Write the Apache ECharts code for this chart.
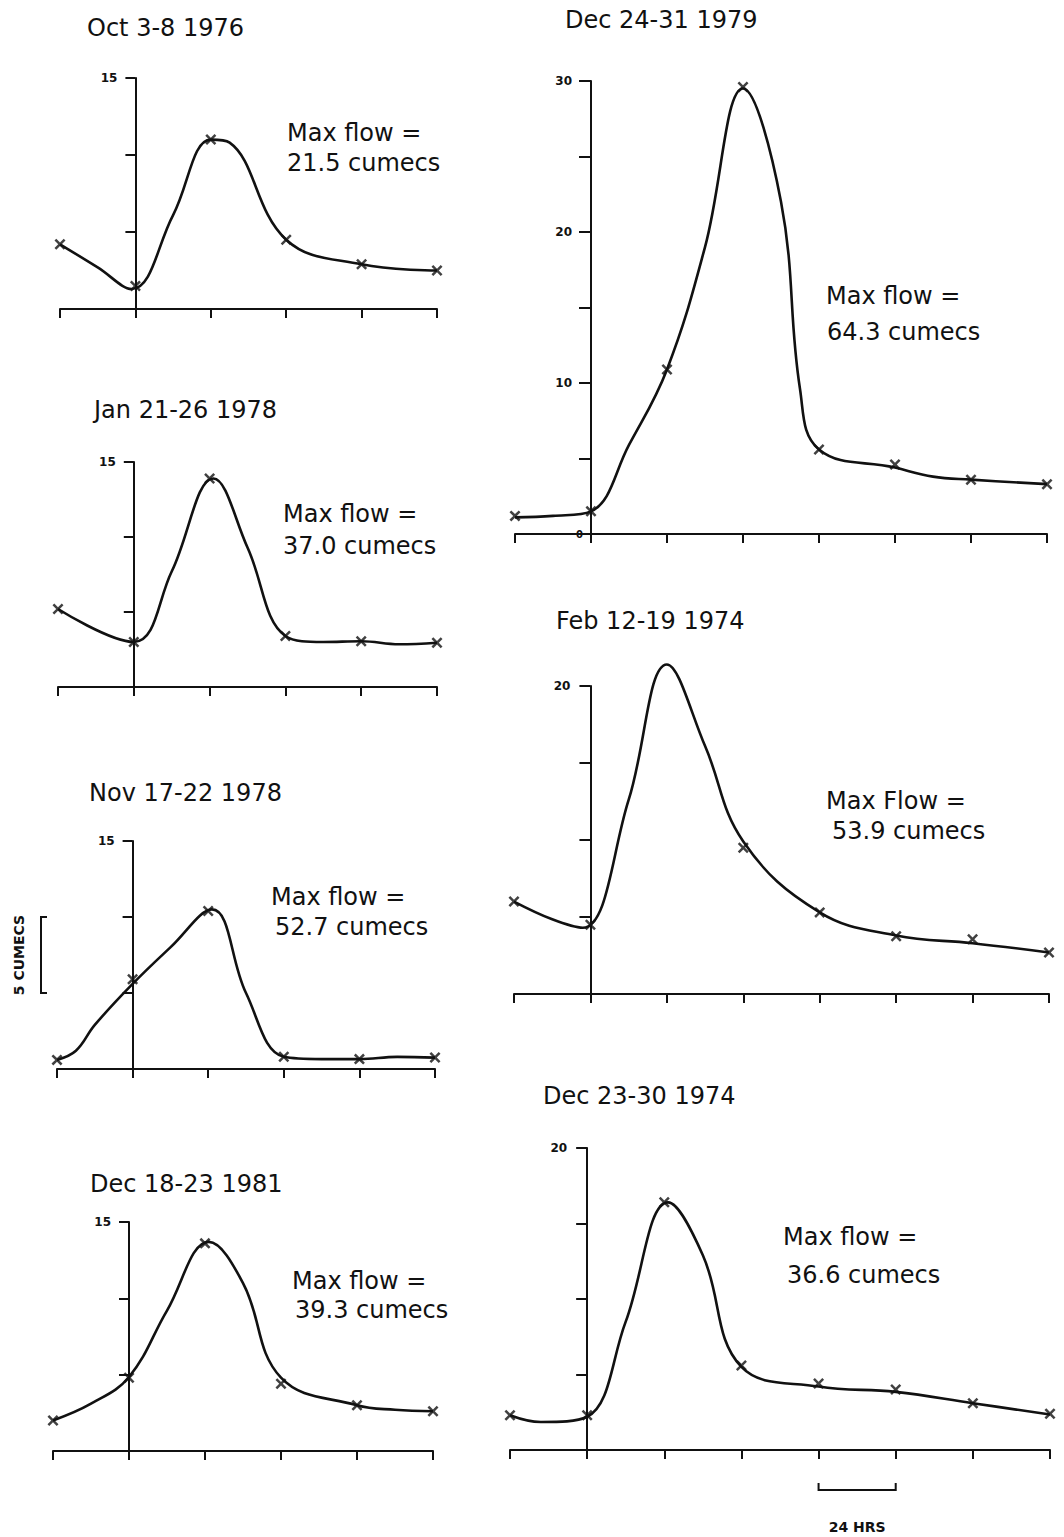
<!DOCTYPE html>
<html>
<head>
<meta charset="utf-8">
<script src="https://cdn.jsdelivr.net/npm/echarts@6/dist/echarts.min.js"></script>
<style>
html,body{margin:0;padding:0;background:#fff;}
#c{width:1064px;height:1537px;}
</style>
</head>
<body>
<div id="c"></div>
<script>
// ---------------- DATA ----------------
// x positions are days (24 h steps) relative to the vertical axis; y in cumecs
const days6 = [-1, 0, 1, 2, 3, 4];
const days8 = [-1, 0, 1, 2, 3, 4, 5, 6];

const panelTitles = ['Oct 3-8 1976', 'Jan 21-26 1978', 'Nov 17-22 1978', 'Dec 18-23 1981',
                     'Dec 24-31 1979', 'Feb 12-19 1974', 'Dec 23-30 1974'];
const flowHeads = ['Max flow =', 'Max flow =', 'Max flow =', 'Max flow =',
                   'Max flow =', 'Max Flow =', 'Max flow ='];
const flowValues = ['21.5 cumecs', '37.0 cumecs', '52.7 cumecs', '39.3 cumecs',
                    '64.3 cumecs', '53.9 cumecs', '36.6 cumecs'];

const axisMax = [15, 15, 15, 15, 30, 20, 20];
const axisLabelValues = [[15], [15], [15], [15], [0, 10, 20, 30], [20], [20]];

// measured points (x markers)
const oct76Marks = [4.2, 1.5, 11.0, 4.5, 2.9, 2.5];
const jan78Marks = [5.2, 3.0, 13.9, 3.4, 3.05, 2.95];
const nov78Marks = [0.6, 5.9, 10.4, 0.8, 0.65, 0.75];
const dec81Marks = [2.0, 4.8, 13.6, 4.4, 3.0, 2.6];
const dec79Marks = [1.2, 1.5, 10.9, 29.6, 5.6, 4.6, 3.6, 3.3];
const feb74Marks = [6.0, 4.5, null, 9.5, 5.3, 3.75, 3.55, 2.7];
const dec74Marks = [2.3, 2.3, 16.4, 5.6, 4.4, 4.0, 3.1, 2.4];

// hand-drawn hydrograph curves
const oct76Curve = [[-1,4.2],[-0.5,2.7],[-0.05,1.3],[0.5,6.1],[1,11.0],[1.25,10.8],
                    [2,4.5],[3,2.9],[4,2.5]];
const jan78Curve = [[-1,5.2],[0,3.0],[0.5,7.7],[1.05,13.9],[1.5,9.3],[2,3.4],
                    [2.5,3.0],[3,3.05],[3.5,2.85],[4,2.95]];
const nov78Curve = [[-1,0.6],[-0.75,1.2],[-0.5,2.9],[0,5.6],[0.5,8.0],[1.05,10.5],
                    [1.5,5.0],[2,0.8],[2.5,0.65],[3,0.65],[3.5,0.8],[4,0.75]];
const dec81Curve = [[-1,2.0],[-0.5,3.1],[0,4.85],[0.5,9.2],[1.05,13.7],[1.5,11.0],
                    [2,4.8],[3,3.0],[3.5,2.7],[4,2.6]];
const dec79Curve = [[-1,1.1],[-0.5,1.2],[0,1.5],[0.5,5.9],[1,10.9],[1.5,19.0],
                    [2,29.5],[2.5,22.0],[2.75,9.6],[3,5.6],[4,4.4],[4.5,3.8],[5,3.6],[6,3.3]];
const feb74Curve = [[-1,6.0],[-0.5,4.85],[-0.1,4.3],[0.5,12.6],[1,21.4],[1.5,16.1],
                    [2,9.9],[3,5.3],[4,3.8],[5,3.3],[6,2.7]];
const dec74Curve = [[-1,2.3],[-0.6,1.85],[0,2.2],[0.5,8.5],[1.05,16.4],[1.5,12.9],
                    [2,5.5],[3,4.2],[4,3.85],[5,3.1],[6,2.35]];

const allDays = [days6, days6, days6, days6, days8, days8, days8];
const allMarks = [oct76Marks, jan78Marks, nov78Marks, dec81Marks, dec79Marks, feb74Marks, dec74Marks];
const allCurves = [oct76Curve, jan78Curve, nov78Curve, dec81Curve, dec79Curve, feb74Curve, dec74Curve];

// ---------------- LAYOUT (pixels) ----------------
const layout = [
  {grid:[60, 78, 377, 231],  title:[87, 28],   head:[287, 133], val:[287, 163], tick:10, margin:8},
  {grid:[58, 462, 379, 225], title:[94, 410],  head:[283, 514], val:[283, 546], tick:10, margin:8},
  {grid:[57, 841, 378, 228], title:[89, 793],  head:[271, 897], val:[275, 927], tick:10, margin:8},
  {grid:[53, 1222, 380, 229],title:[90, 1184], head:[292, 1281],val:[295, 1310],tick:10, margin:8},
  {grid:[515, 81, 532, 453], title:[565, 20],  head:[826, 296], val:[827, 332], tick:12, margin:8},
  {grid:[514, 686, 535, 308],title:[556, 621], head:[826, 801], val:[832, 831], tick:11, margin:10},
  {grid:[510, 1148, 540, 302],title:[543,1096],head:[783, 1237],val:[787, 1275],tick:11, margin:10}
];

const FONT = "'DejaVu Sans', sans-serif";
const INK = '#111';
const xSymbol = 'path://M0,1.6L1.6,0L5,3.4L8.4,0L10,1.6L6.6,5L10,8.4L8.4,10L5,6.6L1.6,10L0,8.4L3.4,5Z';

const chart = echarts.init(document.getElementById('c'), null, {renderer: 'svg'});

const grids = [], xAxes = [], yAxes = [], series = [], titles = [], texts = [];

layout.forEach((L, i) => {
  const days = allDays[i];
  const step = L.grid[2] / (days.length - 1);
  grids.push({left: L.grid[0], top: L.grid[1], width: L.grid[2], height: L.grid[3], containLabel: false});
  xAxes.push({
    gridIndex: i, type: 'value', min: days[0], max: days[days.length - 1], interval: 1,
    axisLine: {show: true, onZero: true, lineStyle: {color: INK, width: 2}},
    axisTick: {show: true, length: 9, lineStyle: {color: INK, width: 2}},
    axisLabel: {show: false}, splitLine: {show: false}
  });
  const labs = axisLabelValues[i];
  const isBig = i === 4;
  yAxes.push({
    gridIndex: i, type: 'value', min: 0, max: axisMax[i], interval: 5,
    position: 'left', offset: -step * (0 - days[0]),
    axisLine: {show: true, onZero: false, lineStyle: {color: INK, width: 2}},
    axisTick: {show: true, length: L.tick, lineStyle: {color: INK, width: 2}},
    splitLine: {show: false},
    axisLabel: {
      show: true, margin: L.margin, color: INK, fontFamily: FONT, fontSize: 12, fontWeight: 'bold',
      formatter: v => {
        if (labs.indexOf(v) < 0) return '';
        if (isBig) return v === 0 ? '{z|0}' : '{n|' + v + '}';
        return '{n|' + v + '}';
      },
      rich: {
        z: {fontSize: 10, fontWeight: 'bold', color: INK, fontFamily: FONT},
        n: {fontSize: 12, fontWeight: 'bold', color: INK, fontFamily: FONT, padding: [0, isBig ? 11 : 10, 0, 0]}
      }
    }
  });
  series.push({
    type: 'line', xAxisIndex: i, yAxisIndex: i, data: allCurves[i],
    smooth: 0.4, showSymbol: false, symbol: 'none', clip: false, silent: true,
    lineStyle: {color: INK, width: 2.6}
  });
  const marks = allMarks[i];
  series.push({
    type: 'scatter', xAxisIndex: i, yAxisIndex: i, clip: false, silent: true,
    data: days.map((d, k) => marks[k] == null ? null : [d, marks[k]]).filter(p => p),
    symbol: xSymbol, symbolSize: 11, itemStyle: {color: INK}
  });
  titles.push({
    text: panelTitles[i], left: L.title[0], top: L.title[1] - 12, padding: 0,
    textStyle: {fontFamily: FONT, fontSize: 24, fontWeight: 'normal', color: INK}
  });
  texts.push({type: 'text', x: L.head[0], y: L.head[1], silent: true,
    style: {text: flowHeads[i], font: "24px 'DejaVu Sans', sans-serif", fill: INK, align: 'left', verticalAlign: 'middle'}});
  texts.push({type: 'text', x: L.val[0], y: L.val[1], silent: true,
    style: {text: flowValues[i], font: "24px 'DejaVu Sans', sans-serif", fill: INK, align: 'left', verticalAlign: 'middle'}});
});

chart.setOption({
  animation: false,
  backgroundColor: '#fff',
  title: titles,
  grid: grids,
  xAxis: xAxes,
  yAxis: yAxes,
  series: series,
  graphic: texts
});

// scale bars, sized from the axes themselves
const yTop = chart.convertToPixel({gridIndex: 2}, [0, 10])[1];
const yBot = chart.convertToPixel({gridIndex: 2}, [0, 5])[1];
const h3 = chart.convertToPixel({gridIndex: 6}, [3, 0]);
const h4 = chart.convertToPixel({gridIndex: 6}, [4, 0]);
const barY = h3[1] + 40;

chart.setOption({
  graphic: texts.concat([
    {type: 'polyline', silent: true,
     shape: {points: [[47, yTop], [41, yTop], [41, yBot], [47, yBot]]},
     style: {stroke: INK, lineWidth: 2, fill: null}},
    {type: 'text', x: 19, y: (yTop + yBot) / 2, rotation: Math.PI / 2, silent: true,
     style: {text: '5 CUMECS', font: "bold 14px 'DejaVu Sans', sans-serif", fill: INK,
             align: 'center', verticalAlign: 'middle'}},
    {type: 'polyline', silent: true,
     shape: {points: [[h3[0], barY - 7], [h3[0], barY], [h4[0], barY], [h4[0], barY - 7]]},
     style: {stroke: INK, lineWidth: 2, fill: null}},
    {type: 'text', x: (h3[0] + h4[0]) / 2, y: 1527, silent: true,
     style: {text: '24 HRS', font: "bold 14px 'DejaVu Sans', sans-serif", fill: INK,
             align: 'center', verticalAlign: 'middle'}}
  ])
});
</script>
</body>
</html>
